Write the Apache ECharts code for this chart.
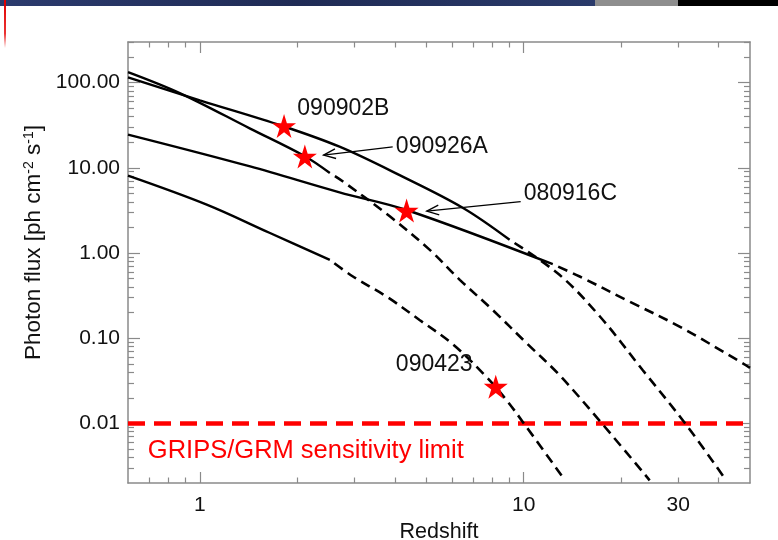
<!DOCTYPE html>
<html>
<head>
<meta charset="utf-8">
<title>Photon flux vs redshift</title>
<script src="https://cdn.jsdelivr.net/npm/echarts@6.0.0/dist/echarts.min.js"></script>
<style>
  html, body { margin: 0; padding: 0; background: #fff; }
  #chart { width: 778px; height: 540px; }
</style>
</head>
<body>
<div id="chart"></div>
<script>
// tracks, [redshift, photon flux]
const grb090902B_solid = [[0.6, 115], [1.0, 62], [1.8, 31], [2.7, 17.7], [4.14, 8.2], [6.5, 3.38], [9.05, 1.43]];
const grb090902B_dashed = [[9.05, 1.43], [12.9, 0.555], [17.2, 0.18], [23.3, 0.0424], [31.8, 0.0096], [42.2, 0.00215]];
const grb090926A_solid = [[0.6, 133], [0.87, 75], [1.43, 28.9], [2.11, 13.7], [2.52, 8.7]];
const grb090926A_dashed = [[2.52, 8.7], [2.76, 6.96], [3.86, 2.7], [5.13, 1.09], [6.35, 0.485], [8.02, 0.215], [10.2, 0.088], [12.9, 0.037], [17.6, 0.0096], [24.5, 0.00215]];
const grb080916C_solid = [[0.6, 24.6], [1.43, 10.4], [2.7, 5.16], [4.35, 3.2], [12.3, 0.74]];
const grb080916C_dashed = [[12.3, 0.74], [14.9, 0.53], [21.2, 0.27], [30.3, 0.137], [47.5, 0.0508], [50, 0.045]];
const grb090423_solid = [[0.6, 8.1], [1.05, 3.7], [1.64, 1.73], [2.52, 0.83]];
const grb090423_dashed = [[2.52, 0.83], [2.97, 0.531], [3.77, 0.309], [4.77, 0.164], [6.04, 0.085], [7.67, 0.0353], [8.85, 0.0188], [10.2, 0.0091], [13.2, 0.00235]];

// measured bursts (stars)
const starZ = [1.82, 2.11, 4.35, 8.2];
const starFlux = [31, 13.6, 3.15, 0.027];

// annotations
const burstNames = ['090902B', '090926A', '080916C', '090423'];
const namePos = [[2.0, 49], [4.03, 17.9], [10.0, 4.99], [4.03, 0.049]];
const arrows = [[3.94, 17.6, 2.41, 14.1], [9.79, 4.01, 5.02, 3.10]]; // from -> tip
const limitFlux = 0.01;
const limitText = 'GRIPS/GRM sensitivity limit';
const limitTextPos = [0.691, 0.0047];

// axes
const xMin = 0.6, xMax = 50;
const yMin = 0.002, yMax = 300;
const xLabels = [1, 10, 30];
const xMajor = [1, 10];
const xMinor = [0.7, 0.8, 0.9, 2, 3, 4, 5, 6, 7, 8, 9, 20, 30, 40];
const yLabels = [0.01, 0.1, 1, 10, 100];
const yMinor = [];
[0.001, 0.01, 0.1, 1, 10, 100].forEach(function (d) {
  for (let m = 2; m <= 9; m++) {
    const v = +(m * d).toPrecision(3);
    if (v > yMin && v <= yMax) yMinor.push(v);
  }
});

const FONT = "'Liberation Sans', Arial, sans-serif";
const AXIS_COLOR = '#8a8a8a';

function starPath() {
  const pts = [];
  for (let i = 0; i < 10; i++) {
    const r = i % 2 ? 0.382 : 1;
    const a = -Math.PI / 2 + i * Math.PI / 5;
    pts.push((r * Math.cos(a)).toFixed(4) + ' ' + (r * Math.sin(a)).toFixed(4));
  }
  return 'path://M' + pts.join(' L') + ' Z';
}

function logAxis(pos, min, max, ticks, len, showLine) {
  return {
    type: 'log', position: pos, min: min, max: max,
    axisLine: { show: showLine, lineStyle: { color: AXIS_COLOR, width: 1.5 } },
    axisTick: { show: true, inside: true, length: len, customValues: ticks, lineStyle: { color: AXIS_COLOR, width: 1.2 } },
    axisLabel: { show: false },
    splitLine: { show: false },
    minorTick: { show: false }
  };
}

const xBottom = logAxis('bottom', xMin, xMax, xMajor, 11, true);
xBottom.axisLabel = {
  show: true, customValues: xLabels, margin: 12,
  color: '#111', fontSize: 21, fontFamily: FONT,
  formatter: function (v) { return String(v); }
};
xBottom.name = 'Redshift';
xBottom.nameLocation = 'middle';
xBottom.nameGap = 32;
xBottom.nameTextStyle = { color: '#111', fontSize: 21.5, fontFamily: FONT };

const yLeft = logAxis('left', yMin, yMax, yLabels, 12, true);
yLeft.axisLabel = {
  show: true, customValues: yLabels, margin: 8,
  color: '#111', fontSize: 21, fontFamily: FONT,
  formatter: function (v) { return v.toFixed(2); }
};
yLeft.name = 'Photon flux [ph cm{sup|-2} s{sup|-1}]';
yLeft.nameLocation = 'middle';
yLeft.nameGap = 82;
yLeft.nameTextStyle = {
  color: '#111', fontSize: 22.5, fontFamily: FONT, padding: [0, 0, 0, 40],
  rich: { sup: { fontSize: 14, fontFamily: FONT, color: '#111', verticalAlign: 'top', lineHeight: 12 } }
};

const chart = echarts.init(document.getElementById('chart'));

function curve(data, dashed) {
  return {
    type: 'line', data: data, showSymbol: false, smooth: 0.35,
    silent: true, z: 3,
    lineStyle: dashed
      ? { color: '#000', width: 2.6, type: [10, 6], dashOffset: 10 }
      : { color: '#000', width: 2.4 }
  };
}

const labelData = burstNames.map(function (n, i) {
  return { name: n, value: namePos[i] };
});
labelData.push({
  name: limitText, value: limitTextPos,
  label: { color: '#ff0000', fontSize: 25.5 }
});

chart.setOption({
  animation: false,
  backgroundColor: '#fff',
  grid: { left: 128, right: 28, top: 42, bottom: 57, outerBoundsMode: 'none' },
  graphic: [
    { type: 'rect', left: 0, top: 0, shape: { width: 595, height: 6 },
      style: { fill: new echarts.graphic.LinearGradient(0, 0, 1, 0, [
        { offset: 0, color: '#2c3b6e' }, { offset: 0.5, color: '#1f2b55' }, { offset: 1, color: '#2a3a6a' }]) } },
    { type: 'rect', left: 595, top: 0, shape: { width: 83, height: 6 }, style: { fill: '#8e8e8e' } },
    { type: 'rect', left: 678, top: 0, shape: { width: 100, height: 6 }, style: { fill: '#000' } },
    { type: 'rect', left: 4, top: 0, shape: { width: 2, height: 48 },
      style: { fill: new echarts.graphic.LinearGradient(0, 0, 0, 1, [
        { offset: 0, color: '#e00000' }, { offset: 0.7, color: 'rgba(230,0,0,0.8)' }, { offset: 1, color: 'rgba(230,0,0,0)' }]) } }
  ],
  xAxis: [
    xBottom,
    logAxis('bottom', xMin, xMax, xMinor, 5.5, false),
    logAxis('top', xMin, xMax, xMajor, 11, true),
    logAxis('top', xMin, xMax, xMinor, 5.5, false)
  ],
  yAxis: [
    yLeft,
    logAxis('left', yMin, yMax, yMinor, 6, false),
    logAxis('right', yMin, yMax, yLabels, 12, true),
    logAxis('right', yMin, yMax, yMinor, 6, false)
  ],
  series: [
    curve(grb090902B_solid, false),
    curve(grb090902B_dashed, true),
    curve(grb090926A_solid, false),
    curve(grb090926A_dashed, true),
    curve(grb080916C_solid, false),
    curve(grb080916C_dashed, true),
    curve(grb090423_solid, false),
    curve(grb090423_dashed, true),
    {
      type: 'line', silent: true, showSymbol: false, z: 2,
      data: [[xMin, limitFlux], [xMax, limitFlux]],
      lineStyle: { color: '#ff0000', width: 4.5, type: [17, 9] }
    },
    {
      type: 'custom', silent: true, z: 4,
      data: arrows,
      encode: { x: 0, y: 1 },
      renderItem: function (params, api) {
        const a = api.coord([api.value(0), api.value(1)]);
        const b = api.coord([api.value(2), api.value(3)]);
        const ang = Math.atan2(a[1] - b[1], a[0] - b[0]);
        const len = 13, spread = 0.38;
        const h1 = [b[0] + len * Math.cos(ang + spread), b[1] + len * Math.sin(ang + spread)];
        const h2 = [b[0] + len * Math.cos(ang - spread), b[1] + len * Math.sin(ang - spread)];
        return {
          type: 'group',
          children: [
            { type: 'line', shape: { x1: a[0], y1: a[1], x2: b[0], y2: b[1] }, style: { stroke: '#000', lineWidth: 1.3 } },
            { type: 'polyline', shape: { points: [h1, b, h2] }, style: { stroke: '#000', fill: null, lineWidth: 1.3 } }
          ]
        };
      }
    },
    {
      type: 'scatter', silent: true, z: 5,
      data: starZ.map(function (z, i) { return [z, starFlux[i]]; }),
      symbol: starPath(), symbolSize: [24, 24],
      itemStyle: { color: '#ff0000', opacity: 1 }
    },
    {
      type: 'scatter', silent: true, z: 5,
      data: labelData, symbolSize: 0,
      itemStyle: { opacity: 1 },
      label: {
        show: true, position: 'right', distance: 0, opacity: 1,
        color: '#111', fontSize: 23, fontFamily: FONT,
        formatter: function (p) { return p.name; }
      }
    }
  ]
});
</script>
</body>
</html>
